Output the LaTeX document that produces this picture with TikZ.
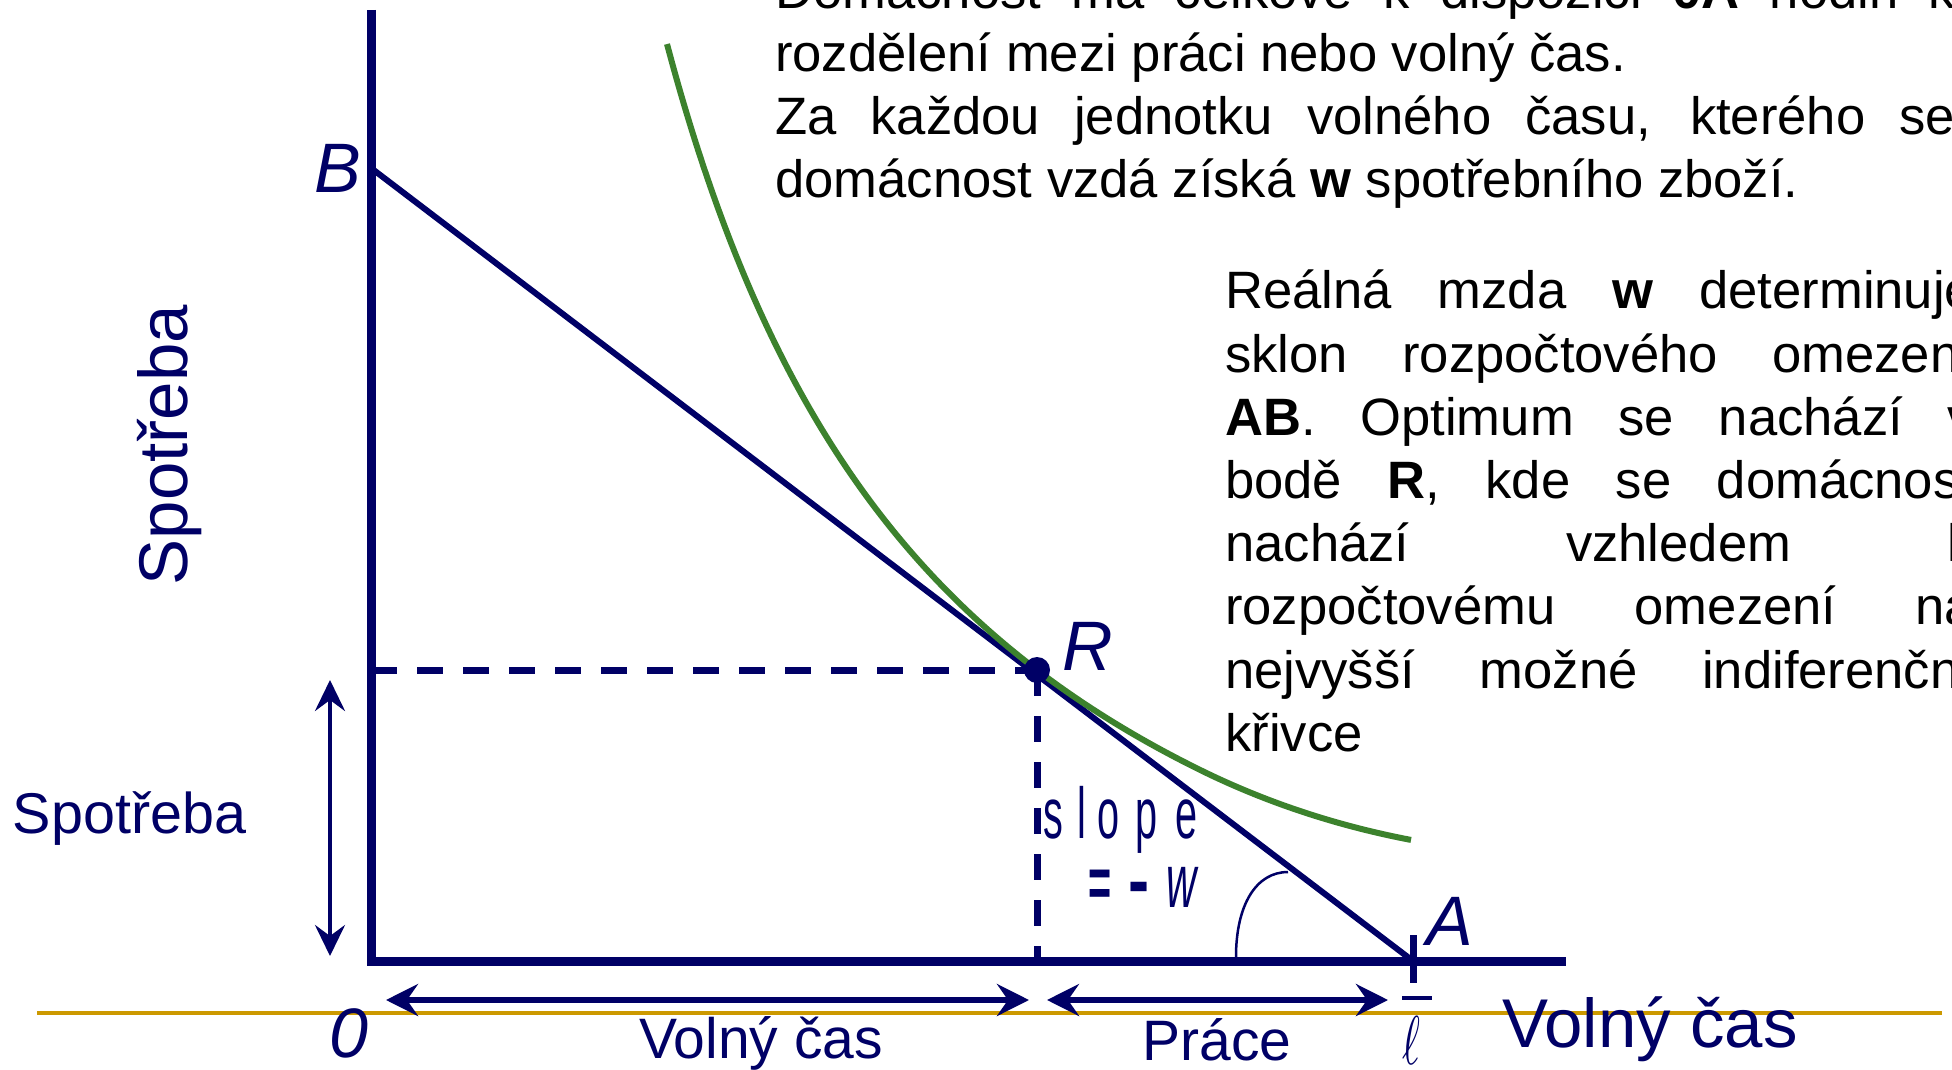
\documentclass[tikz,border=0pt]{standalone}
\usepackage{fontspec}
\usepackage{graphicx}
\setmainfont{Liberation Sans}
\usetikzlibrary{arrows.meta}
\definecolor{navy}{RGB}{0,0,102}
\definecolor{icgreen}{RGB}{60,130,45}
\definecolor{gold}{RGB}{204,153,0}
\begin{document}
\begin{tikzpicture}[x=1pt,y=-1pt,
  txt/.style={inner sep=0pt, anchor=base west, text=black, font=\fontsize{52.6}{63.2}\selectfont},
  lbl/.style={inner sep=0pt, anchor=base, text=navy, font=\fontsize{70}{70}\selectfont\itshape},
  navtxt/.style={inner sep=0pt, anchor=base, text=navy},
  dbl/.style={navy, line width=6pt, {Stealth[length=32pt,width=32pt,inset=11pt]}-{Stealth[length=32pt,width=32pt,inset=11pt]}},
  dashline/.style={navy, line width=7pt, dash pattern=on 26pt off 20pt},
]
\useasboundingbox (0,0) rectangle (1952,1070);
\fill[white] (0,0) rectangle (1952,1070);

% key points
\coordinate (O) at (371,961);
\coordinate (Ytop) at (371,10);
\coordinate (Xend) at (1566,961);
\coordinate (B) at (371,168);
\coordinate (A) at (1413,961);
\coordinate (R) at (1037,670);
\coordinate (Ry) at (371,670);
\coordinate (Rx) at (1037,961);
\coordinate (g1) at (37,1013);
\coordinate (g2) at (1942,1013);
\coordinate (tk1) at (1413,935);
\coordinate (tk2) at (1413,983);
\coordinate (bar1) at (1402,998);
\coordinate (bar2) at (1432,998);
\coordinate (arc1) at (1236,957);
\coordinate (arc2) at (1288,872);
\coordinate (va1) at (330,680);
\coordinate (va2) at (330,956);
\coordinate (h1) at (386,1000);
\coordinate (h2) at (1029,1000);
\coordinate (h3) at (1047,1000);
\coordinate (h4) at (1388,1000);

% gold line
\draw[gold, line width=4.5pt] (g1) -- (g2);

% dashed guides
\draw[dashline] (Ry) -- (R);
\draw[dashline] (R) -- (Rx);

% axes
\draw[navy, line width=9pt, line join=miter] (Ytop) -- (O) -- (Xend);

% budget line
\draw[navy, line width=6pt] (B) -- (A);

% indifference curve
\draw[icgreen, line width=6pt] plot[domain=667:1411, samples=120, smooth] (\x, {1181.8 - 3441.68/((\x-364.5)/100) - 2.92*(max(0,\x-1200)/100)^2});

% optimum point
\fill[navy] (R) circle (13pt);

% tick and bar at A
\draw[navy, line width=7pt] (tk1) -- (tk2);
\draw[navy, line width=4pt] (bar1) -- (bar2);

% angle arc
\draw[navy, line width=2.5pt] (arc1) .. controls (1236,905) and (1256,872) .. (arc2);

% double arrows
\draw[navy, line width=4pt, {Stealth[length=31pt,width=30pt,inset=11pt]}-{Stealth[length=31pt,width=30pt,inset=11pt]}] (va1) -- (va2);
\draw[dbl] (h1) -- (h2);
\draw[dbl] (h3) -- (h4);

% point labels
\node[lbl] (Blbl) at (338,193) {B};
\node[lbl] (Rlbl) at (1088,670) {R};
\node[lbl] (Albl) at (1450,945) {A};
\node[lbl] (Olbl) at (349,1057) {0};
\node[navtxt] (ell) at (1411,1064) {\scalebox{4.3}[6.9]{$\ell$}};

% axis titles and spans
\node[inner sep=0pt, text=navy, rotate=90, font=\fontsize{69}{69}\selectfont] (ylab) at (170,445) {Spotřeba};
\node[navtxt, font=\fontsize{57.5}{57.5}\selectfont] (sp) at (129.5,833) {Spotřeba};
\node[navtxt, font=\fontsize{57}{57}\selectfont] (vc) at (761,1058) {Volný čas};
\node[navtxt, font=\fontsize{57}{57}\selectfont] (pr) at (1217,1060) {Práce};
\node[navtxt, font=\fontsize{69}{69}\selectfont] (vcbig) at (1650,1047) {Volný čas};

% slope label
\node[inner sep=0pt, anchor=base west, text=navy] (slope) at (1043,838) {\scalebox{0.55}[1]{\fontsize{72}{72}\selectfont s\hspace{26pt}l\hspace{20pt}o\hspace{29pt}p\hspace{33pt}e}};
\node[inner sep=0pt, anchor=base west, text=navy] (slopew) at (1088,907) {\scalebox{0.55}[1]{\fontsize{72}{72}\selectfont\textbf{=}\hspace{32pt}\scalebox{1.6}[1.1]{\textbf{-}}\hspace{30pt}{\fontsize{76}{76}\selectfont\textit{w}}}};

% top text block
\node[txt] (t1) at (775,8.1) {\makebox[1180pt][s]{Domácnost má celkově k dispozici \textbf{0A} hodin k}};
\node[txt] (t2) at (775,71.3) {rozdělení mezi práci nebo volný čas.};
\node[txt] (t3) at (775,134.5) {\makebox[1180pt][s]{Za každou jednotku volného času, kterého se}};
\node[txt] (t4) at (775,197.7) {domácnost vzdá získá \textbf{w} spotřebního zboží.};

% right text block
\node[txt] (r1) at (1225,308.8) {\makebox[749pt][s]{Reálná mzda \textbf{w} determinuje}};
\node[txt] (r2) at (1225,372.0) {\makebox[749pt][s]{sklon rozpočtového omezení}};
\node[txt] (r3) at (1225,435.2) {\makebox[749pt][s]{\textbf{AB}. Optimum se nachází v}};
\node[txt] (r4) at (1225,498.4) {\makebox[749pt][s]{bodě \textbf{R}, kde se domácnost}};
\node[txt] (r5) at (1225,561.6) {\makebox[749pt][s]{nachází vzhledem k}};
\node[txt] (r6) at (1225,624.8) {\makebox[749pt][s]{rozpočtovému omezení na}};
\node[txt] (r7) at (1225,688.0) {\makebox[749pt][s]{nejvyšší možné indiferenční}};
\node[txt] (r8) at (1225,751.2) {křivce};
\end{tikzpicture}
\end{document}
